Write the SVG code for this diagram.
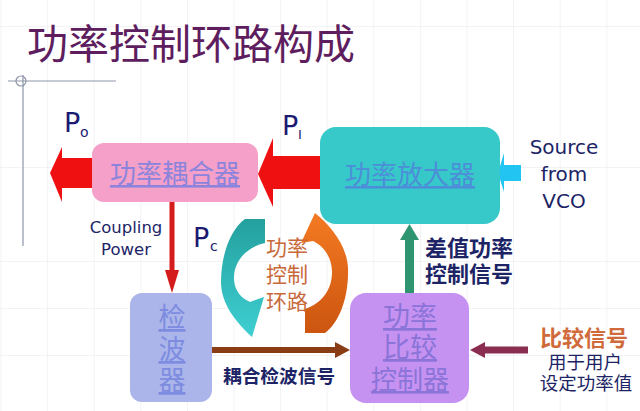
<svg xmlns="http://www.w3.org/2000/svg" width="640" height="411" viewBox="0 0 640 411">
  <defs>
    <pattern id="grid" x="0.5" y="26" width="46.6" height="47" patternUnits="userSpaceOnUse">
      <path d="M0,0 L46.6,0 M0,0 L0,47" fill="none" stroke="#e7e7ee" stroke-width="1"/>
    </pattern>
    <linearGradient id="tealG" x1="0" y1="0" x2="0" y2="1">
      <stop offset="0" stop-color="#23a09e"/>
      <stop offset="1" stop-color="#3fcfd2"/>
    </linearGradient>
    <linearGradient id="orgG" x1="0" y1="0" x2="0" y2="1">
      <stop offset="0" stop-color="#f47a22"/>
      <stop offset="1" stop-color="#cc5510"/>
    </linearGradient>
    <style>
      .cjk { font-family: 'Noto Sans CJK SC', sans-serif; }
      .lat { font-family: 'DejaVu Sans', sans-serif; }
      .boxlbl { font-family: 'Noto Sans CJK SC', sans-serif; text-decoration: underline; text-anchor: middle; }
      .navy { fill: #1c2466; }
      .p { font-family: 'DejaVu Sans', sans-serif; fill: #1a1a72; }
    </style>
  </defs>

  <rect width="640" height="411" fill="#ffffff"/>
  <rect width="640" height="411" fill="url(#grid)"/>

  <!-- margin decoration -->
  <g id="margin" stroke="#8d96a8" fill="none" stroke-width="1.2">
    <line x1="8" y1="81" x2="116" y2="81"/>
    <line x1="23" y1="75" x2="23" y2="246"/>
    <circle cx="21" cy="81" r="5"/>
  </g>

  <text id="title" class="cjk" x="27" y="59" font-size="41" fill="#5e1d5e">功率控制环路构成</text>

  <!-- connectors -->
  <g id="connectors">
    <polygon points="92,158 62,158 62,147 50,173 62,202 62,188 92,188" fill="#ef1111"/>
    <polygon points="322,156 273,156 273,138 258,174 273,207 273,189 322,189" fill="#ef1111"/>
    <polygon points="521,165 504,165 504,153 498,173 504,192 504,181 521,181" fill="#22c4f2"/>
    <polygon points="169.5,202 174.5,202 174.5,270 179,270 172,293 165,270 169.5,270" fill="#d41c1c"/>
    <polygon points="405,293 414,293 414,240 419,240 409.5,224 400,240 405,240" fill="#2e9570"/>
    <polygon points="212,347 335,347 335,342 350,350 335,358 335,353 212,353" fill="#8a3c14"/>
    <polygon points="528,346.5 485,346.5 485,342 470,350 485,358 485,353.5 528,353.5" fill="#8b2d50"/>
    <g id="loop-arrows">
      <path d="M245,219 L265,219 L265,243 C246,247 233,262 234,280 C235,291 241,298 250,302 L264,297 L252,337 C236,322 221,304 221,282 C221,254 231,229 245,219 Z" fill="url(#tealG)"/>
      <path d="M305,333 L305,309 C322,303 332,290 332,272 C332,258 324,246 313,241 L301,243 L315,213 C330,225 347,245 348,268 C349,298 339,323 325,333 Z" fill="url(#orgG)"/>
    </g>
  </g>

  <!-- nodes -->
  <g id="coupler">
    <rect x="92" y="143" width="166" height="59" rx="12" fill="#f4a0c8"/>
    <text class="boxlbl" x="175" y="183" font-size="26" fill="#8c84dc">功率耦合器</text>
  </g>

  <g id="amplifier">
    <rect x="320" y="127" width="180" height="97" rx="16" fill="#37c9c9"/>
    <text class="boxlbl" x="410" y="184" font-size="26" fill="#4c8ed8">功率放大器</text>
  </g>

  <g id="detector">
    <rect x="130" y="293" width="82" height="109" rx="12" fill="#abb5ea"/>
    <text class="boxlbl" x="172" y="327" font-size="27" fill="#7d8ce0"><tspan x="172" y="327">检</tspan><tspan x="172" y="359">波</tspan><tspan x="172" y="390">器</tspan></text>
  </g>

  <g id="comparator">
    <rect x="350" y="293" width="119" height="110" rx="16" fill="#c692f2"/>
    <text class="boxlbl" x="410" y="326" font-size="27" fill="#8a74d8"><tspan x="410" y="326">功率</tspan><tspan x="410" y="357">比较</tspan><tspan x="410" y="389" font-size="26">控制器</tspan></text>
  </g>

  <!-- labels -->
  <g id="labels">
    <text class="p" x="64" y="132" font-size="27">P</text>
    <text class="p" x="80" y="137" font-size="14">o</text>
    <text class="p" x="282" y="135" font-size="27">P</text>
    <text class="p" x="298" y="139" font-size="13">I</text>
    <text class="p" x="193" y="247" font-size="27">P</text>
    <text class="p" x="210" y="251" font-size="14">c</text>

    <text class="lat navy" font-size="16.5" text-anchor="middle"><tspan x="126" y="233">Coupling</tspan><tspan x="126" y="255">Power</tspan></text>

    <text class="lat navy" font-size="20" text-anchor="middle"><tspan x="564" y="154">Source</tspan><tspan x="564" y="181">from</tspan><tspan x="564" y="208">VCO</tspan></text>

    <text class="cjk" font-size="21" fill="#c8693a" text-anchor="middle"><tspan x="287" y="255">功率</tspan><tspan x="287" y="282">控制</tspan><tspan x="287" y="309">环路</tspan></text>

    <text class="cjk navy" x="223" y="383" font-size="18.7" font-weight="bold">耦合检波信号</text>
    <text class="cjk navy" font-size="22" font-weight="bold"><tspan x="425" y="256">差值功率</tspan><tspan x="425" y="282">控制信号</tspan></text>

    <text class="cjk" x="540" y="346" font-size="22" fill="#d06a3a" font-weight="bold">比较信号</text>
    <text class="cjk navy" font-size="18.5" text-anchor="middle"><tspan x="585" y="369">用于用户</tspan><tspan x="586" y="390">设定功率值</tspan></text>
  </g>
</svg>
